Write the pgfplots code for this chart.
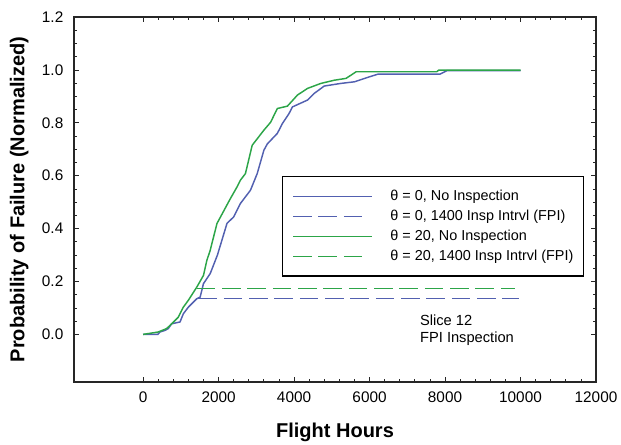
\documentclass[border=0pt]{standalone}
\usepackage{fontspec}
\setmainfont{Liberation Sans}
\usepackage{pgfplots}
\usepackage{pgfplotstable}
\pgfplotsset{compat=1.18}
\definecolor{cblue}{RGB}{82,96,176}
\definecolor{cgreen}{RGB}{44,165,72}
\pgfplotsset{
  solidleg/.style={legend image code/.code={\draw[##1, line width=1.1pt] (0pt,0pt) -- (59pt,0pt);}},
  dashleg/.style={legend image code/.code={\draw[##1, line width=1.1pt] (0pt,0pt) -- (52pt,0pt);}},
}

\pgfplotstableread{
x y
0 0
392 0
445 0.009
579 0.015
667 0.022
757 0.040
979 0.047
1067 0.078
1200 0.103
1333 0.122
1424 0.135
1512 0.141
1600 0.192
1779 0.230
1970 0.300
2224 0.420
2400 0.444
2579 0.495
2845 0.545
3024 0.608
3200 0.696
3291 0.720
3557 0.760
3691 0.797
3867 0.835
3957 0.860
4357 0.886
4533 0.911
4800 0.939
5245 0.949
5600 0.955
5957 0.972
6224 0.984
7867 0.984
8045 0.997
10000 0.997
}\bluesolid

\pgfplotstableread{
x y
0 0
400 0.009
624 0.022
757 0.040
933 0.065
1067 0.103
1200 0.129
1424 0.179
1600 0.223
1690 0.280
1779 0.318
1957 0.419
2300 0.510
2491 0.558
2579 0.583
2712 0.608
2891 0.715
3200 0.772
3379 0.802
3557 0.854
3824 0.863
4091 0.905
4357 0.930
4712 0.949
5067 0.961
5379 0.968
5645 0.993
7779 0.993
7832 0.999
10000 0.999
}\greensolid

\begin{document}
\begin{tikzpicture}
\path[use as bounding box] (-55.5pt,-46.5pt) rectangle (410.25pt,286.5pt);
\begin{axis}[
  at={(0,0)}, anchor=south west,
  scale only axis, width=391.5pt, height=273.75pt,
  xmin=-1830, xmax=12000, ymin=-0.18, ymax=1.2,
  xtick={0,2000,4000,6000,8000,10000,12000},
  ytick={0,0.2,0.4,0.6,0.8,1.0,1.2},
  scaled x ticks=false,
  minor x tick num=4, minor y tick num=3,
  tick align=inside,
  major tick length=4pt, minor tick length=2.2pt,
  axis line style={line width=0.9pt, black!85},
  every tick/.style={black!85, line width=0.6pt},
  /pgf/number format/assume math mode=true,
  xticklabel style={/pgf/number format/set thousands separator={}, font=\fontsize{11.5}{13}\selectfont, yshift=-3.7pt},
  yticklabel style={/pgf/number format/fixed, /pgf/number format/fixed zerofill, /pgf/number format/precision=1, font=\fontsize{11.5}{13}\selectfont, xshift=-4.5pt},
  xlabel={Flight Hours},
  ylabel={Probability of Failure (Normalized)},
  label style={font=\fontsize{15}{18}\selectfont\bfseries},
  xlabel style={at={(axis description cs:0.5,-0.137)}, anchor=center},
  ylabel style={at={(axis description cs:-0.105,0.5)}, anchor=center},
  legend style={at={(axis description cs:0.398,0.564)}, anchor=north west,
    font=\fontsize{10.8}{12}\selectfont, draw=black, line width=0.9pt,
    inner xsep=7.5pt, inner ysep=9.5pt, row sep=4.5pt, column sep=13.5pt,
    nodes={inner sep=0pt, text height=8pt, text depth=2.5pt}},
  legend cell align=left,
]
\addplot[cblue, line width=1.1pt, solidleg] table[x=x,y=y] {\bluesolid};
\addlegendentry{θ = 0, No Inspection}
\addplot[cblue, line width=1.1pt, dash pattern=on 14pt off 5pt, dashleg] coordinates {(1467,0.136) (9957,0.136)};
\addlegendentry{θ = 0, 1400 Insp Intrvl (FPI)}
\addplot[cgreen, line width=1.1pt, solidleg] table[x=x,y=y] {\greensolid};
\addlegendentry{θ = 20, No Inspection}
\addplot[cgreen, line width=1.1pt, dash pattern=on 14pt off 5pt, dashleg] coordinates {(1424,0.174) (9850,0.174)};
\addlegendentry{θ = 20, 1400 Insp Intrvl (FPI)}
\node[anchor=west, align=left, font=\fontsize{11}{12.5}\selectfont, inner sep=0pt] at (axis cs:7333,0.015) {Slice 12\\FPI Inspection};
\end{axis}
\end{tikzpicture}
\end{document}
